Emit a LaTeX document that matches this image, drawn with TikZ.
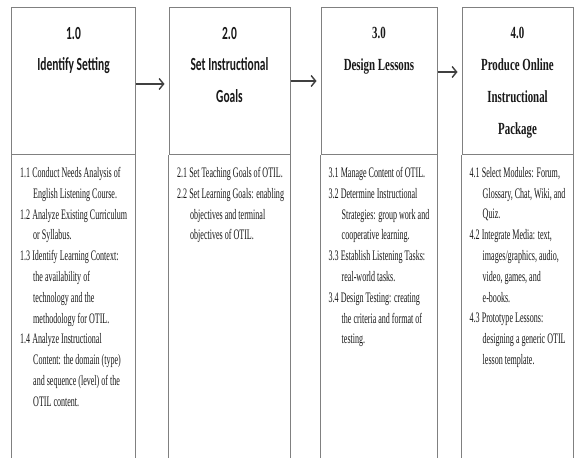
\documentclass[tikz,border=0pt]{standalone}
\usepackage{fontspec}
\setmainfont{Liberation Serif}
\newfontfamily\bodyfont[FakeStretch=0.555]{Liberation Serif}
\newfontfamily\titleserif[FakeStretch=0.64]{Liberation Serif}
\newfontfamily\titlesans[FakeStretch=0.62]{Carlito}
\usetikzlibrary{arrows.meta}
\newcommand{\hi}{\hspace*{13bp}}
\begin{document}
\begin{tikzpicture}[x=1bp,y=-1bp,
  boxline/.style={draw=black!50, line width=1bp},
  headbox/.style={boxline, inner sep=0pt, minimum height=147bp},
  flow/.style={draw=black!75, line width=1.4bp, shorten >=4bp,
    -{Straight Barb[length=4.5bp,width=11bp,line width=1.4bp]}},
  tsans/.style={anchor=north, inner sep=0pt, align=center, text=black!90,
    font=\titlesans\bfseries\fontsize{18.5bp}{31.2bp}\selectfont},
  tserif/.style={anchor=north, inner sep=0pt, align=center, text=black!90,
    font=\titleserif\bfseries\fontsize{17bp}{31.8bp}\selectfont},
  body/.style={anchor=north west, inner sep=0pt, align=left, text=black!90,
    font=\bodyfont\fontsize{14.5bp}{20.8bp}\selectfont}]
\useasboundingbox (0,0) rectangle (574,459);
\fill[white] (0,0) rectangle (574,459);

% header boxes
\node[headbox, minimum width=123bp] (h1) at (73.5,81.5) {};
\node[headbox, minimum width=121bp] (h2) at (229.5,81.5) {};
\node[headbox, minimum width=116bp] (h3) at (379,81.5) {};
\node[headbox, minimum width=111bp] (h4) at (517.5,81.5) {};

% lower open parts
\foreach \b in {h1,h2,h3,h4}{
  \draw[boxline] (\b.south west) -- ++(0,302);
  \draw[boxline] (\b.south east) -- ++(0,302);
}

% arrows
\draw[flow] ([yshift=-2.5bp]h1.east) -- ([yshift=-2.5bp]h2.west);
\draw[flow] ([yshift=0.5bp]h2.east) -- ([yshift=0.5bp]h3.west);
\draw[flow] ([yshift=9.5bp]h3.east) -- ([yshift=9.5bp]h4.west);

% titles
\node[tsans] (t1) at (73.5,27.3) {1.0\\Identify Setting};
\node[tsans] (t2) at (229.5,27.3) {2.0\\Set Instructional\\Goals};
\node[tserif] (t3) at (379,27.3) {3.0\\Design Lessons};
\node[tserif] (t4) at (517.5,27.3) {4.0\\Produce Online\\Instructional\\Package};

% bodies
\node[body] (d1) at (20,167) {1.1 Conduct Needs Analysis of\\
\hi English Listening Course.\\
1.2 Analyze Existing Curriculum\\
\hi or Syllabus.\\
1.3 Identify Learning Context:\\
\hi the availability of\\
\hi technology and the\\
\hi methodology for OTIL.\\
1.4 Analyze Instructional\\
\hi Content: the domain (type)\\
\hi and sequence (level) of the\\
\hi OTIL content.};

\node[body] (d2) at (177,167) {2.1 Set Teaching Goals of OTIL.\\
2.2 Set Learning Goals: enabling\\
\hi objectives and terminal\\
\hi objectives of OTIL.};

\node[body] (d3) at (328.5,167) {3.1 Manage Content of OTIL.\\
3.2 Determine Instructional\\
\hi Strategies: group work and\\
\hi cooperative learning.\\
3.3 Establish Listening Tasks:\\
\hi real-world tasks.\\
3.4 Design Testing: creating\\
\hi the criteria and format of\\
\hi testing.};

\node[body] (d4) at (469.5,167) {4.1 Select Modules: Forum,\\
\hi Glossary, Chat, Wiki, and\\
\hi Quiz.\\
4.2 Integrate Media: text,\\
\hi images/graphics, audio,\\
\hi video, games, and\\
\hi e-books.\\
4.3 Prototype Lessons:\\
\hi designing a generic OTIL\\
\hi lesson template.};
\end{tikzpicture}
\end{document}
